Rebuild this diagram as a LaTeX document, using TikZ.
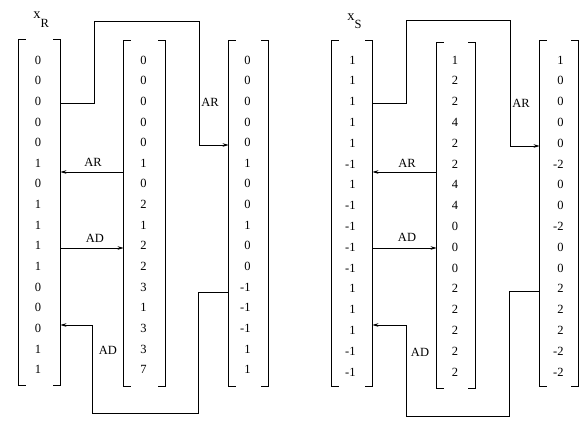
\documentclass[tikz,border=0pt]{standalone}
\usepackage{fontspec}
\setmainfont{Liberation Serif}
\usetikzlibrary{arrows.meta,calc}
\begin{document}
\begin{tikzpicture}[x=1pt,y=-1pt,line width=0.8pt,
  colbox/.style={draw=none,inner sep=0pt,minimum height=345pt},
  num/.style={inner sep=0pt,anchor=east,font=\fontsize{12.5}{14}\selectfont},
  lbl/.style={inner sep=0pt,font=\fontsize{12.5}{14}\selectfont},
  conn/.style={-{Stealth[length=6pt,width=3.6pt]}}]
\useasboundingbox (0,0) rectangle (583,427);

% column boxes
\node[colbox,minimum width=41pt] (L1) at (39.5,212.5) {};
\node[colbox,minimum width=41pt] (L2) at (144.5,213) {};
\node[colbox,minimum width=39pt] (L3) at (248.5,213) {};
\node[colbox,minimum width=40pt] (R1) at (352,213) {};
\node[colbox,minimum width=38pt] (R2) at (456,215.5) {};
\node[colbox,minimum width=38pt] (R3) at (559,213.5) {};

% brackets
\foreach \c in {L1,L2,L3,R1,R2,R3}{
  \draw ([xshift=7pt]\c.north west) -- (\c.north west) -- (\c.south west) -- ([xshift=7pt]\c.south west);
  \draw ([xshift=-7pt]\c.north east) -- (\c.north east) -- (\c.south east) -- ([xshift=-7pt]\c.south east);
}

% titles
\node[inner sep=0pt,anchor=base west] (xR) at (33,19)
  {\fontsize{14.5}{16}\selectfont x\raisebox{-9pt}{\fontsize{12.5}{14}\selectfont R}};
\node[inner sep=0pt,anchor=base west] (xS) at (347,21)
  {\fontsize{14.5}{16}\selectfont x\raisebox{-8pt}{\fontsize{12.5}{14}\selectfont S}};

% numbers
\foreach \v [count=\i] in {0,0,0,0,0,1,0,1,1,1,1,0,0,0,1,1}
  \node[num] (L1-\i) at (41.5,{60+20.65*(\i-1)}) {\v};
\foreach \v [count=\i] in {0,0,0,0,0,1,0,2,1,2,2,3,1,3,3,7}
  \node[num] (L2-\i) at (147,{60+20.65*(\i-1)}) {\v};
\foreach \v [count=\i] in {0,0,0,0,0,1,0,0,1,0,0,-1,-1,-1,1,1}
  \node[num] (L3-\i) at (251,{60+20.65*(\i-1)}) {\v};
\foreach \v [count=\i] in {1,1,1,1,1,-1,1,-1,-1,-1,-1,1,1,1,-1,-1}
  \node[num] (R1-\i) at (356,{60+20.8*(\i-1)}) {\v};
\foreach \v [count=\i] in {1,2,2,4,2,2,4,4,0,0,0,2,2,2,2,2}
  \node[num] (R2-\i) at (458.5,{60+20.8*(\i-1)}) {\v};
\foreach \v [count=\i] in {1,0,0,0,0,-2,0,0,-2,0,0,2,2,2,-2,-2}
  \node[num] (R3-\i) at (564,{60+20.8*(\i-1)}) {\v};

% ---- left group connectors
\coordinate (la1) at (0,103);
\coordinate (la2) at (94,21);
\coordinate (la3) at (199,145);
\draw[conn] (L1.east |- la1) -| (la2) -| (la3) -- (L3.west |- la3);
\node[lbl] (lAR1) at (210,102) {AR};

\coordinate (lb) at (0,172);
\draw[conn] (L2.west |- lb) -- (L1.east |- lb);
\node[lbl] (lAR2) at (93,162) {AR};

\coordinate (lc) at (0,248);
\draw[conn] (L1.east |- lc) -- (L2.west |- lc);
\node[lbl] (lAD1) at (95,238) {AD};

\coordinate (ld1) at (0,292);
\coordinate (ld2) at (198,413);
\coordinate (ld3) at (92,325);
\draw[conn] (L3.west |- ld1) -| (ld2) -| (ld3) -- (L1.east |- ld3);
\node[lbl] (lAD2) at (108,350) {AD};

% ---- right group connectors
\coordinate (ra1) at (0,103);
\coordinate (ra2) at (406,20);
\coordinate (ra3) at (510,146);
\draw[conn] (R1.east |- ra1) -| (ra2) -| (ra3) -- (R3.west |- ra3);
\node[lbl] (rAR1) at (521,103) {AR};

\coordinate (rb) at (0,172);
\draw[conn] (R2.west |- rb) -- (R1.east |- rb);
\node[lbl] (rAR2) at (407,163) {AR};

\coordinate (rc) at (0,248);
\draw[conn] (R1.east |- rc) -- (R2.west |- rc);
\node[lbl] (rAD1) at (407,237) {AD};

\coordinate (rd1) at (0,291);
\coordinate (rd2) at (509,416);
\coordinate (rd3) at (406,325);
\draw[conn] (R3.west |- rd1) -| (rd2) -| (rd3) -- (R1.east |- rd3);
\node[lbl] (rAD2) at (420,352) {AD};
\end{tikzpicture}
\end{document}
